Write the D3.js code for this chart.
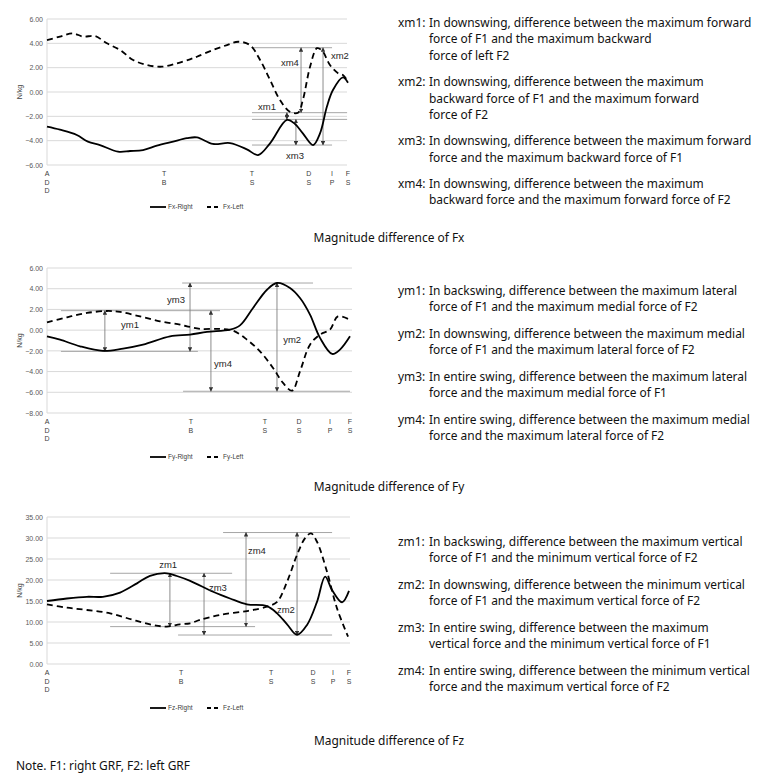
<!DOCTYPE html>
<html><head><meta charset="utf-8">
<script src="https://cdn.jsdelivr.net/npm/d3@7"></script>
<style>body{margin:0;background:#fff}</style>
</head><body><svg id="c" width="763" height="784"></svg>
<script>
// ---------- DATA ----------
const events = ["ADD","TB","TS","DS","IP","FS"];
const fxEventPos = [0,38.9,68.1,87.0,94.7,100];
const fyEventPos = [0,47.5,71.9,83.2,93.4,100];
const fzEventPos = [0,44.4,74.2,88.1,94.7,100];

const fxTicks = [-6,-4,-2,0,2,4,6];
const fyTicks = [-8,-6,-4,-2,0,2,4,6];
const fzTicks = [0,5,10,15,20,25,30,35];

// [percent of swing, N/kg]
const fxRight = [[0,-2.85],[4.3,-3.1],[9.9,-3.53],[13.6,-4.08],[17.6,-4.36],[23.6,-4.9],[27.6,-4.85],[31.9,-4.77],[36.5,-4.41],[41.9,-4.08],[46.5,-3.8],[49.8,-3.73],[55.1,-4.27],[60.8,-4.2],[66.4,-4.71],[70.1,-5.18],[74.1,-4.22],[79.7,-2.3],[82.4,-2.63],[85.0,-3.4],[88.4,-4.36],[90.7,-3.4],[93.0,-1.2],[95.0,0.16],[98.3,1.2],[100,0.76]];
const fxLeft = [[0,4.27],[4.3,4.55],[8.6,4.82],[12.0,4.55],[15.9,4.6],[19.9,4.0],[24.3,3.45],[28.6,2.63],[33.2,2.22],[38.2,2.08],[43.2,2.36],[47.5,2.69],[49.8,2.9],[55.1,3.45],[59.8,3.86],[63.5,4.13],[67.4,3.86],[70.8,2.63],[74.1,0.99],[77.4,-0.66],[80.7,-1.62],[83.4,-1.7],[85.0,-0.66],[87.4,2.08],[89.7,3.6],[91.4,3.4],[94.0,2.22],[96.7,1.54],[98.3,1.4],[100,0.85]];

const fyRight = [[0,-0.6],[4.3,-0.92],[10.9,-1.56],[18.5,-2.0],[25.1,-1.78],[31.7,-1.4],[40.6,-0.6],[47.2,-0.43],[52.8,-0.17],[60.4,0.05],[63.7,0.46],[68.0,2.14],[72.6,3.9],[75.9,4.55],[80.2,4.07],[83.5,3.1],[86.8,1.5],[90.1,-0.75],[94.1,-2.3],[96.7,-1.88],[100,-0.6]];
const fyLeft = [[0,0.75],[6.6,1.24],[13.2,1.66],[19.8,1.85],[24.1,1.76],[30.7,1.33],[37.3,0.85],[43.9,0.53],[46.2,0.37],[50.5,0.12],[57.1,0.12],[61.4,-0.05],[66.0,-0.92],[70.3,-2.05],[74.6,-3.65],[77.9,-5.1],[80.9,-5.84],[83.5,-3.98],[86.8,-1.4],[90.1,-0.43],[93.4,0.05],[96.0,1.33],[100,1.0]];

const fzRight = [[0,15.0],[6.6,15.6],[13.2,16.0],[18.5,16.0],[24.2,17.0],[29.8,19.2],[34.1,21.0],[39.7,21.6],[43.0,20.95],[47.4,19.8],[55.0,17.2],[60.6,15.6],[66.2,14.2],[72.8,13.8],[76.2,12.07],[79.5,9.45],[82.8,6.95],[86.1,9.3],[89.4,14.8],[92.1,20.8],[94.4,17.6],[97.7,14.7],[100,17.4]];
const fzLeft = [[0,14.2],[6.6,13.4],[13.2,12.86],[20.9,12.07],[28.5,10.5],[35.1,9.3],[39.7,8.9],[44.0,9.45],[47.4,9.7],[50.7,10.5],[57.3,11.7],[66.2,12.6],[72.8,13.65],[76.2,14.8],[79.5,19.6],[82.8,26.0],[85.4,29.9],[87.4,31.1],[89.4,29.1],[92.7,22.0],[96.0,13.3],[99.7,6.5]];

// annotations: horizontal reference lines [value, from%, to%], arrows [at%, v0, v1], labels [text, at%, v]
const fxHLines = [[3.64,68.1,94.7],[-1.7,68.1,99.7],[-2.25,68.1,99.7],[-4.36,68.1,94.7]];
const fxArrows = [[84.4,3.64,-1.7],[79.7,-1.7,-2.25],[82.7,-2.25,-4.36],[91.7,3.64,-4.36]];
const fxLabels = [["xm4",80.7,2.38],["xm2",97.3,2.96],["xm1",73.1,-1.23],["xm3",82.4,-5.26]];

const fyHLines = [[4.55,44.6,87.8],[1.88,4.6,57.1],[-2.05,4.6,49.8],[-5.9,44.9,100]];
const fyArrows = [[19.1,1.88,-2.05],[47.2,4.55,-2.05],[54.1,1.88,-5.9],[75.9,4.55,-5.9]];
const fyLabels = [["ym3",42.6,2.94],["ym1",27.4,0.53],["ym2",80.9,-0.92],["ym4",58.1,-3.23]];

const fzHLines = [[21.6,20.9,61.3],[8.9,20.9,68.9],[6.9,43.4,94.4],[31.3,58.3,94.4]];
const fzArrows = [[40.7,21.6,8.9],[52.0,21.6,6.9],[65.9,31.3,8.9],[82.8,31.3,6.9]];
const fzLabels = [["zm1",40.1,23.6],["zm3",56.6,18.1],["zm4",69.5,27.1],["zm2",79.1,12.9]];

const xDesc = [["xm1:",["In downswing, difference between the maximum forward","force of F1 and the maximum backward","force of left F2"]],
  ["xm2:",["In downswing, difference between the maximum","backward force of F1 and the maximum forward","force of F2"]],
  ["xm3:",["In downswing, difference between the maximum forward","force and the maximum backward force of F1"]],
  ["xm4:",["In downswing, difference between the maximum","backward force and the maximum forward force of F2"]]];
const yDesc = [["ym1:",["In backswing, difference between the maximum lateral","force of F1 and the maximum medial force of F2"]],
  ["ym2:",["In downswing, difference between the maximum medial","force of F1 and the maximum lateral force of F2"]],
  ["ym3:",["In entire swing, difference between the maximum lateral","force and the maximum medial force of F1"]],
  ["ym4:",["In entire swing, difference between the maximum medial","force and the maximum lateral force of F2"]]];
const zDesc = [["zm1:",["In backswing, difference between the maximum vertical","force of F1 and the minimum vertical force of F2"]],
  ["zm2:",["In downswing, difference between the minimum vertical","force of F1 and the maximum vertical force of F2"]],
  ["zm3:",["In entire swing, difference between the maximum","vertical force and the minimum vertical force of F1"]],
  ["zm4:",["In entire swing, difference between the minimum vertical","force and the maximum vertical force of F2"]]];

const titles = ["Magnitude difference of Fx","Magnitude difference of Fy","Magnitude difference of Fz"];
const note = "Note. F1: right GRF, F2: left GRF";

// ---------- LAYOUT ----------
const svg = d3.select("#c");
const chartFont = "Liberation Sans, Arial, sans-serif";
const textFont = "'Noto Sans', 'Open Sans', sans-serif";

const defs = svg.append("defs");
defs.append("marker").attr("id","ah").attr("viewBox","0 0 10 10").attr("refX",9).attr("refY",5)
  .attr("markerWidth",5).attr("markerHeight",5).attr("orient","auto-start-reverse")
  .append("path").attr("d","M0,0L10,5L0,10z").attr("fill","#333");

const charts = [
  {right:fxRight,left:fxLeft,ev:fxEventPos,ticks:fxTicks,dom:[-6,6],x0:47,x1:348,y0:19,y1:165,leg:207,names:["Fx-Right","Fx-Left"],h:fxHLines,a:fxArrows,l:fxLabels,gx:347},
  {right:fyRight,left:fyLeft,ev:fyEventPos,ticks:fyTicks,dom:[-8,6],x0:47,x1:350,y0:268,y1:413,leg:457,names:["Fy-Right","Fy-Left"],h:fyHLines,a:fyArrows,l:fyLabels,gx:352},
  {right:fzRight,left:fzLeft,ev:fzEventPos,ticks:fzTicks,dom:[0,35],x0:47,x1:349,y0:517,y1:664,leg:708,names:["Fz-Right","Fz-Left"],h:fzHLines,a:fzArrows,l:fzLabels,gx:350}
];

charts.forEach(c => {
  const x = d3.scaleLinear().domain([0,100]).range([c.x0,c.x1]);
  const y = d3.scaleLinear().domain(c.dom).range([c.y1,c.y0]);
  const g = svg.append("g");
  g.selectAll(".grid").data(c.ticks).join("line")
    .attr("x1",c.x0).attr("x2",c.gx).attr("y1",d=>y(d)).attr("y2",d=>y(d))
    .attr("stroke","#d9d9d9").attr("stroke-width",1);
  g.append("line").attr("x1",c.x0).attr("x2",c.x0).attr("y1",c.y0).attr("y2",c.y1).attr("stroke","#d9d9d9");
  const ya = d3.axisLeft(y).tickValues(c.ticks).tickFormat(d3.format(".2f")).tickSize(0).tickPadding(4);
  const yg = g.append("g").attr("transform",`translate(${c.x0},0)`).call(ya);
  yg.select(".domain").remove();
  yg.selectAll("text").attr("font-family",chartFont).attr("font-size",7).attr("fill","#595959");
  g.append("text").attr("transform",`translate(20,${(c.y0+c.y1)/2}) rotate(-90)`)
    .attr("text-anchor","middle").attr("dy","0.35em").attr("font-family",chartFont).attr("font-size",7).attr("fill","#404040").text("N/kg");
  const xg = g.selectAll(".ev").data(events).join("text")
    .attr("x",(d,i)=>x(c.ev[i])).attr("y",c.y1+11)
    .attr("text-anchor","middle").attr("font-family",chartFont).attr("font-size",7).attr("fill","#404040");
  xg.each(function(d){
    const t = d3.select(this);
    d.split("").forEach((ch,k)=>{
      t.append("tspan").attr("x",t.attr("x")).attr("dy",k===0?0:8.5).text(ch);
    });
  });
  g.selectAll(".hl").data(c.h).join("line")
    .attr("x1",d=>x(d[1])).attr("x2",d=>x(d[2])).attr("y1",d=>y(d[0])).attr("y2",d=>y(d[0]))
    .attr("stroke","#a6a6a6").attr("stroke-width",1);
  g.selectAll(".ar").data(c.a).join("line")
    .attr("x1",d=>x(d[0])).attr("x2",d=>x(d[0])).attr("y1",d=>y(d[1])).attr("y2",d=>y(d[2]))
    .attr("stroke","#7f7f7f").attr("stroke-width",0.9)
    .attr("marker-start","url(#ah)").attr("marker-end","url(#ah)");
  const line = d3.line().x(d=>x(d[0])).y(d=>y(d[1])).curve(d3.curveCatmullRom.alpha(0.5));
  g.append("path").datum(c.left).attr("d",line).attr("fill","none").attr("stroke","#000")
    .attr("stroke-width",1.8).attr("stroke-dasharray","6,4");
  g.append("path").datum(c.right).attr("d",line).attr("fill","none").attr("stroke","#000")
    .attr("stroke-width",1.8);
  g.selectAll(".lb").data(c.l).join("text")
    .attr("x",d=>x(d[1])).attr("y",d=>y(d[2])).attr("dy","0.35em").attr("text-anchor","middle")
    .attr("font-family",chartFont).attr("font-size",9.5).attr("fill","#262626").text(d=>d[0]);
  const lg = g.append("g");
  lg.append("line").attr("x1",150).attr("x2",166).attr("y1",c.leg).attr("y2",c.leg).attr("stroke","#000").attr("stroke-width",1.8);
  lg.append("text").attr("x",168).attr("y",c.leg).attr("dy","0.35em").attr("font-family",chartFont).attr("font-size",6.5).attr("fill","#404040").text(c.names[0]);
  lg.append("line").attr("x1",207).attr("x2",220).attr("y1",c.leg).attr("y2",c.leg).attr("stroke","#000").attr("stroke-width",1.8).attr("stroke-dasharray","4,3");
  lg.append("text").attr("x",223).attr("y",c.leg).attr("dy","0.35em").attr("font-family",chartFont).attr("font-size",6.5).attr("fill","#404040").text(c.names[1]);
});

// ---------- TEXT ----------
const probe = svg.append("text").attr("font-family",textFont).attr("font-size",12).text("xm1: In downswing, difference between the maximum forward");
const fs = 12 * 353 / probe.node().getComputedTextLength();
probe.remove();

function descBlock(desc, startY){
  let yy = startY;
  desc.forEach(([lab, lines]) => {
    svg.append("text").attr("x",398).attr("y",yy).attr("dy","0.35em").attr("font-family",textFont).attr("font-size",fs).attr("fill","#111").text(lab);
    lines.forEach((ln,k)=>{
      svg.append("text").attr("x",429).attr("y",yy+k*16.3).attr("dy","0.35em").attr("font-family",textFont).attr("font-size",fs).attr("fill","#111").text(ln);
    });
    yy += (lines.length-1)*16.3 + 26.5;
  });
}
descBlock(xDesc, 23);
descBlock(yDesc, 291);
descBlock(zDesc, 542);

[[titles[0],238],[titles[1],487],[titles[2],741]].forEach(([t,yy])=>{
  svg.append("text").attr("x",389).attr("y",yy).attr("dy","0.35em").attr("text-anchor","middle")
    .attr("font-family",textFont).attr("font-size",fs).attr("fill","#111").text(t);
});
svg.append("text").attr("x",16).attr("y",766).attr("dy","0.35em").attr("font-family",textFont).attr("font-size",fs).attr("fill","#111").text(note);
</script>
</body></html>
